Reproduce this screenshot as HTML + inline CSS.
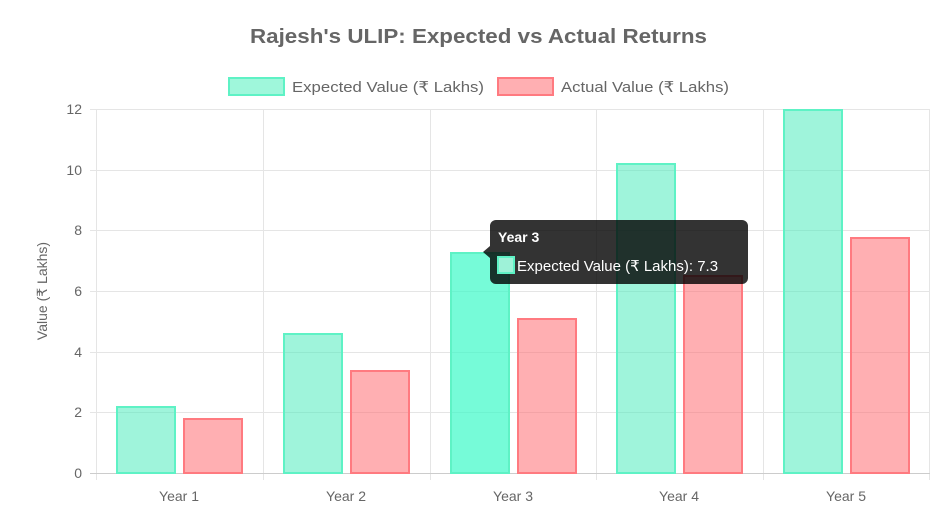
<!DOCTYPE html><html><head><style>body{margin:0;background:#fff}svg{font-family:"Liberation Sans","DejaVu Sans",sans-serif}</style></head><body>
<svg width="948" height="523" xmlns="http://www.w3.org/2000/svg">
<text x="250" y="43" font-size="20" font-weight="bold" fill="#666" textLength="457" lengthAdjust="spacingAndGlyphs">Rajesh's ULIP: Expected vs Actual Returns</text>
<rect x="229" y="78" width="55" height="17" fill="rgba(80,240,190,0.55)" stroke="#5ef2c5" stroke-width="2"/>
<text x="292" y="92" font-size="15" fill="#666" textLength="192" lengthAdjust="spacingAndGlyphs">Expected Value (₹ Lakhs)</text>
<rect x="498" y="78" width="55" height="17" fill="rgba(255,110,115,0.55)" stroke="#ff7a80" stroke-width="2"/>
<text x="561" y="92" font-size="15" fill="#666" textLength="168" lengthAdjust="spacingAndGlyphs">Actual Value (₹ Lakhs)</text>
<g stroke="#e5e5e5" stroke-width="1">
<line x1="90" y1="109.5" x2="930" y2="109.5"/><line x1="90" y1="170.5" x2="930" y2="170.5"/><line x1="90" y1="230.5" x2="930" y2="230.5"/><line x1="90" y1="291.5" x2="930" y2="291.5"/><line x1="90" y1="352.5" x2="930" y2="352.5"/><line x1="90" y1="412.5" x2="930" y2="412.5"/>
<line x1="96.5" y1="109" x2="96.5" y2="480"/><line x1="263.5" y1="109" x2="263.5" y2="480"/><line x1="430.5" y1="109" x2="430.5" y2="480"/><line x1="596.5" y1="109" x2="596.5" y2="480"/><line x1="763.5" y1="109" x2="763.5" y2="480"/><line x1="929.5" y1="109" x2="929.5" y2="480"/>
</g>
<line x1="90" y1="473.5" x2="930" y2="473.5" stroke="#ccc"/>
<g font-size="14" fill="#666" text-anchor="end">
<text x="82" y="114">12</text><text x="82" y="175">10</text><text x="82" y="235">8</text><text x="82" y="296">6</text><text x="82" y="357">4</text><text x="82" y="417">2</text><text x="82" y="478">0</text>
</g>
<text transform="translate(47,291) rotate(-90)" text-anchor="middle" font-size="14" fill="#666">Value (₹ Lakhs)</text>
<g font-size="14" fill="#666" text-anchor="middle">
<text x="179" y="501">Year 1</text><text x="346" y="501">Year 2</text><text x="513" y="501">Year 3</text><text x="679" y="501">Year 4</text><text x="846" y="501">Year 5</text>
</g>
<g fill="rgba(80,235,190,0.55)" stroke="#5ef2c5" stroke-width="2">
<rect x="117" y="407" width="58" height="66"/>
<rect x="284" y="334" width="58" height="139"/>
<rect x="451" y="253" width="58" height="220" fill="rgba(60,250,200,0.7)"/>
<rect x="617" y="164" width="58" height="309"/>
<rect x="784" y="110" width="58" height="363"/>
</g>
<g fill="rgba(255,110,115,0.55)" stroke="#ff7a80" stroke-width="2">
<rect x="184" y="419" width="58" height="54"/>
<rect x="351" y="371" width="58" height="102"/>
<rect x="518" y="319" width="58" height="154"/>
<rect x="684" y="276" width="58" height="197"/>
<rect x="851" y="238" width="58" height="235"/>
</g>
<path d="M496,220 H742 a6,6 0 0 1 6,6 V278 a6,6 0 0 1 -6,6 H496 a6,6 0 0 1 -6,-6 V258 L483,252 L490,246 V226 a6,6 0 0 1 6,-6 Z" fill="rgba(0,0,0,0.8)"/>
<text x="498" y="242" font-size="14" font-weight="bold" fill="#fff">Year 3</text>
<rect x="498" y="257" width="16" height="16" fill="#9ef2d8" stroke="#5ef2c5" stroke-width="2"/>
<text x="517" y="271" font-size="15" fill="#fff">Expected Value (₹ Lakhs): 7.3</text>
</svg></body></html>
